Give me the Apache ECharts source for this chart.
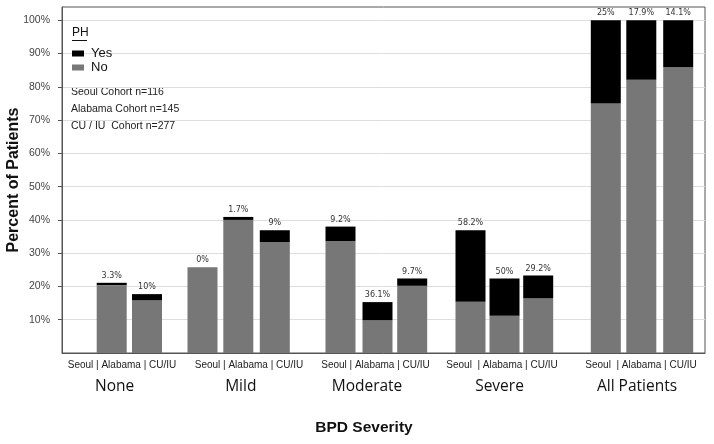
<!DOCTYPE html>
<html>
<head>
<meta charset="utf-8">
<script src="https://cdn.jsdelivr.net/npm/echarts@6/dist/echarts.min.js"></script>
<style>
  html, body { margin: 0; padding: 0; background: #fff; }
  #chart { width: 714px; height: 444px; }
</style>
</head>
<body>
<div id="chart"></div>
<script>
// groups of BPD severity, 3 cohorts each
var groups = ['None', 'Mild', 'Moderate', 'Severe', 'All Patients'];
var groupSubLabels = ['Seoul | Alabama | CU/IU', 'Seoul | Alabama | CU/IU', 'Seoul | Alabama | CU/IU', 'Seoul  | Alabama | CU/IU', 'Seoul  | Alabama | CU/IU'];
var cohortNotes = ['Seoul Cohort n=116', 'Alabama Cohort n=145', 'CU / IU  Cohort n=277'];

// bar slots along the x axis (Seoul, Alabama, CU/IU per group)
var barPos = [13.7, 49.7, 85.0, 140.5, 176.3, 212.8, 278.5, 315.5, 350.2, 408.5, 442.5, 476.2, 543.8, 579.3, 616.2];
var subLabelPos = [60, 187, 313.5, 440, 579];
var groupLabelPos = [52.7, 178.8, 305, 437.5, 575];

// percent of patients, PH = No / PH = Yes
var noValues = [null, 20.4, 15.9, 25.8, 40.0, 33.3, 33.6, 9.8, 20.2, 15.4, 11.2, 16.5, 75.0, 82.1, 85.9];
var yesValues = [null, 0.7, 1.8, 0, 0.9, 3.6, 4.4, 5.5, 2.2, 21.5, 11.2, 6.8, 25.0, 17.9, 14.1];
var pctLabels = ['', '3.3%', '10%', '0%', '1.7%', '9%', '9.2%', '36.1%', '9.7%', '58.2%', '50%', '29.2%', '25%', '17.9%', '14.1%'];

var yTicks = [10, 20, 30, 40, 50, 60, 70, 80, 90, 100];

var chart = echarts.init(document.getElementById('chart'), null, { renderer: 'canvas' });

// value first so the stack is done on the percent, not on the slot
function rows(values) {
	return barPos.map(function (x, i) { return [values[i], x]; });
}

var option = {
	animation: false,
	backgroundColor: '#fff',
	grid: {
		left: 62, right: 9, top: 7, bottom: 91,
		show: true, borderColor: '#555', borderWidth: 1,
		containLabel: false, outerBoundsMode: 'none'
	},
	legend: {
		data: ['Yes', 'No'],
		orient: 'vertical',
		left: 72, top: 47,
		padding: 0,
		itemWidth: 12, itemHeight: 6,
		itemGap: 1,
		icon: 'rect',
		textStyle: { fontFamily: 'Liberation Sans', fontSize: 13, color: '#111', padding: [0, 0, 0, 2] }
	},
	xAxis: [
		{
			type: 'value', min: 0, max: 643,
			axisLine: { show: true, lineStyle: { color: '#555', width: 1 } },
			axisTick: { show: false },
			splitLine: { show: false },
			axisLabel: {
				customValues: subLabelPos,
				margin: 7,
				fontFamily: 'Liberation Sans', fontSize: 10, color: '#222',
				formatter: function (v) {
					var i = subLabelPos.indexOf(v);
					return i >= 0 ? groupSubLabels[i] : '';
				}
			}
		},
		{
			type: 'value', min: 0, max: 643, position: 'bottom',
			axisLine: { show: false },
			axisTick: { show: false },
			splitLine: { show: false },
			axisLabel: {
				customValues: groupLabelPos,
				margin: 26,
				fontFamily: 'Open Sans', fontSize: 15.5, color: '#111',
				formatter: function (v) {
					var i = groupLabelPos.indexOf(v);
					return i >= 0 ? groups[i] : '';
				}
			}
		}
	],
	yAxis: {
		type: 'value', min: 0, max: 104, interval: 10,
		name: 'Percent of Patients',
		nameLocation: 'middle',
		nameRotate: 90,
		nameGap: 40,
		nameMoveOverlap: false,
		nameTextStyle: { fontFamily: 'Liberation Sans', fontWeight: 'bold', fontSize: 16, color: '#111' },
		axisLine: { show: true, lineStyle: { color: '#555', width: 1 } },
		axisTick: { show: true, length: 4, customValues: yTicks, lineStyle: { color: '#555' } },
		axisLabel: {
			customValues: yTicks,
			margin: 12,
			fontFamily: 'Liberation Sans', fontSize: 10.5, color: '#444',
			formatter: '{value}%'
		},
		splitLine: { show: true, lineStyle: { color: '#dedede', width: 1 } }
	},
	series: [
		{
			name: 'No',
			type: 'bar',
			stack: 'ph',
			barWidth: 30,
			dimensions: ['pct', 'slot'],
			encode: { x: 'slot', y: 'pct' },
			itemStyle: { color: '#777777' },
			data: rows(noValues)
		},
		{
			name: 'Yes',
			type: 'bar',
			stack: 'ph',
			barWidth: 30,
			dimensions: ['pct', 'slot'],
			encode: { x: 'slot', y: 'pct' },
			itemStyle: { color: '#000000' },
			label: {
				show: true,
				position: 'top',
				distance: 3,
				fontFamily: 'DejaVu Sans', fontSize: 8, color: '#333',
				formatter: function (p) { return pctLabels[p.dataIndex]; }
			},
			data: rows(yesValues)
		}
	],
	graphic: [
		{ type: 'text', left: 72, top: 27, style: { text: 'PH', fontFamily: 'Liberation Sans', fontSize: 12, fill: '#111' } },
		{ type: 'line', shape: { x1: 72, y1: 40.5, x2: 87, y2: 40.5 }, style: { stroke: '#111', lineWidth: 1 } },
		{ type: 'text', left: 71, top: 87, style: { text: cohortNotes[0], fontFamily: 'Liberation Sans', fontSize: 10.5, fill: '#222' } },
		{ type: 'text', left: 71, top: 104, style: { text: cohortNotes[1], fontFamily: 'Liberation Sans', fontSize: 10.5, fill: '#222' } },
		{ type: 'text', left: 71, top: 121, style: { text: cohortNotes[2], fontFamily: 'Liberation Sans', fontSize: 10.5, fill: '#222' } },
		{
			type: 'text', x: 364, y: 428,
			style: { text: 'BPD Severity', fontFamily: 'Liberation Sans', fontWeight: 'bold', fontSize: 15.5, fill: '#111', align: 'center', verticalAlign: 'middle' }
		}
	]
};

chart.setOption(option);
</script>
</body>
</html>
